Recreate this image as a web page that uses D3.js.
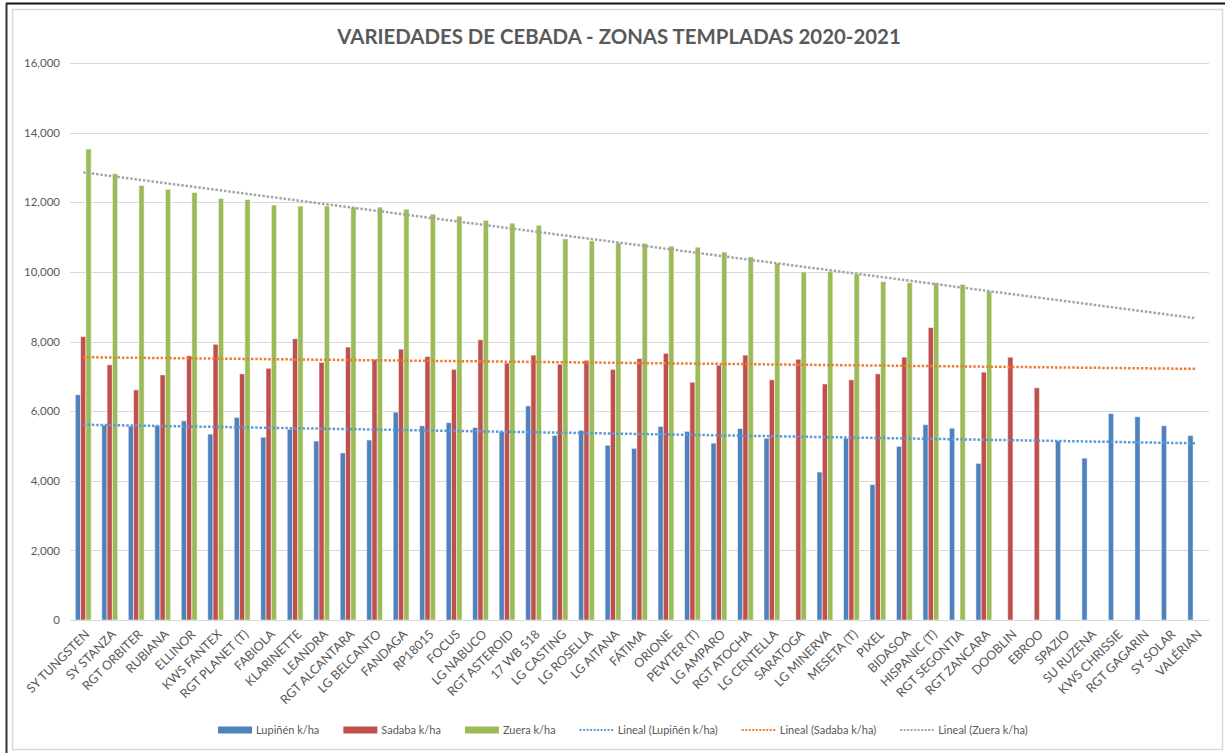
<!DOCTYPE html>
<html><head><meta charset="utf-8">
<script src="https://cdn.jsdelivr.net/npm/d3@7"></script>
<style>html,body{margin:0;padding:0;background:#fff;}svg{display:block;}</style>
</head><body>
<svg id="chart" width="1225" height="753"></svg>
<script>
const title = "VARIEDADES DE CEBADA - ZONAS TEMPLADAS 2020-2021";
const categories = ["SY TUNGSTEN","SY STANZA","RGT ORBITER","RUBIANA","ELLINOR","KWS FANTEX","RGT PLANET (T)","FABIOLA","KLARINETTE","LEANDRA","RGT ALCANTARA","LG BELCANTO","FANDAGA","RP18015","FOCUS","LG NABUCO","RGT ASTEROID","17 WB 518","LG CASTING","LG ROSELLA","LG AITANA","FÁTIMA","ORIONE","PEWTER (T)","LG AMPARO","RGT ATOCHA","LG CENTELLA","SARATOGA","LG MINERVA","MESETA (T)","PIXEL","BIDASOA","HISPANIC (T)","RGT SEGONTIA","RGT ZANCARA","DOOBLIN","EBROO","SPAZIO","SU RUZENA","KWS CHRISSIE","RGT GAGARIN","SY SOLAR","VALÉRIAN"];
const seriesNames = ["Lupiñén k/ha","Sadaba k/ha","Zuera k/ha"];
const lupinen = [6470,5600,5570,5590,5720,5340,5820,5250,5480,5140,4800,5170,5970,5580,5670,5530,5420,6150,5300,5450,5020,4930,5560,5420,5080,5500,5220,null,4250,5220,3890,4990,5610,5510,4500,null,null,5150,4650,5930,5840,5580,5300];
const sadaba = [8140,7330,6610,7040,7590,7920,7070,7230,8080,7400,7840,7490,7780,7570,7200,8050,7380,7610,7350,7460,7200,7510,7660,6830,7320,7610,6900,7490,6780,6900,7070,7550,8400,null,7120,7550,6670,null,null,null,null,null,null];
const zuera = [13530,12820,12480,12370,12280,12110,12080,11920,11890,11890,11860,11860,11800,11660,11600,11480,11400,11340,10950,10890,10830,10820,10740,10710,10570,10430,10250,10000,10010,9940,9720,9690,9690,9640,9440,null,null,null,null,null,null,null,null];
const yTicks = [0,2000,4000,6000,8000,10000,12000,14000,16000];

const barColors = ["#4F81BD","#C0504D","#9BBB59"];
const trendColors = ["#5B9BD5","#ED7D31","#A5A5A5"];
const seriesData = [lupinen, sadaba, zuera];
const FONT = "Lato, 'Liberation Sans', sans-serif";
const TXT = "#595959";

const svg = d3.select("#chart");
// frame
svg.append("rect").attr("x",12.5).attr("y",9.5).attr("width",1210).attr("height",740)
  .attr("fill","#fff").attr("stroke","#d9d9d9").attr("stroke-width",1.5);
svg.append("line").attr("x1",6).attr("x2",1225).attr("y1",3.5).attr("y2",3.5).attr("stroke","#111").attr("stroke-width",2);
svg.append("line").attr("x1",6.5).attr("x2",6.5).attr("y1",3).attr("y2",753).attr("stroke","#333").attr("stroke-width",2);

const pLeft = 70, pRight = 1209, pTop = 63, pBottom = 620;
const x = d3.scaleBand().domain(categories).range([pLeft, pRight]).padding(0);
const y = d3.scaleLinear().domain([0,16000]).range([pBottom, pTop]);
const groupW = x.bandwidth()*0.6;
const x1 = d3.scaleBand().domain(d3.range(3)).range([(x.bandwidth()-groupW)/2, (x.bandwidth()+groupW)/2]);

// title
const t = svg.append("text").attr("x",619).attr("y",44).attr("text-anchor","middle")
  .attr("font-family",FONT).attr("font-weight","bold").attr("font-size",20).attr("fill",TXT).text(title);
const tw = t.node().getComputedTextLength();
t.attr("font-size", 20*564/tw);

// gridlines
svg.append("g").selectAll("line").data(yTicks).join("line")
  .attr("x1",pLeft).attr("x2",pRight).attr("y1",d=>Math.round(y(d))+0.5).attr("y2",d=>Math.round(y(d))+0.5)
  .attr("stroke","#d9d9d9").attr("stroke-width",1);

// y axis labels
const yAxis = d3.axisLeft(y).tickValues(yTicks).tickFormat(d3.format(",")).tickSize(0).tickPadding(10);
const ya = svg.append("g").attr("transform",`translate(${pLeft},0)`).call(yAxis);
ya.select(".domain").remove();
ya.selectAll("text").attr("font-family",FONT).attr("font-size",11.5).attr("fill",TXT);

// bars
const gBars = svg.append("g");
seriesData.forEach((arr, s) => {
  gBars.append("g").selectAll("rect").data(arr.map((v,i)=>({v, c:categories[i]})).filter(d=>d.v!=null)).join("rect")
    .attr("x", d=>x(d.c)+x1(s)).attr("width", x1.bandwidth())
    .attr("y", d=>y(d.v)).attr("height", d=>y(0)-y(d.v))
    .attr("fill", barColors[s]).attr("stroke","rgba(255,255,255,0.55)").attr("stroke-width",1);
});

// x axis
const xAxis = d3.axisBottom(x).tickSize(0).tickPadding(0);
const xa = svg.append("g").attr("transform",`translate(0,${pBottom})`).call(xAxis);
xa.select(".domain").attr("stroke","#d9d9d9");
xa.selectAll("text").attr("font-family",FONT).attr("font-size",12.5).attr("fill",TXT)
  .attr("text-anchor","end").attr("dy","0.35em")
  .attr("transform","translate(4,12) rotate(-45)");

// trend lines (linear least squares, x = category number)
const trendLine = d3.line().x(d=>x(d.c)+x.bandwidth()/2).y(d=>y(d.v));
seriesData.forEach((arr, s) => {
  const pts = arr.map((v,i)=>[i+1,v]).filter(p=>p[1]!=null);
  const mx = d3.mean(pts,p=>p[0]), my = d3.mean(pts,p=>p[1]);
  const slope = d3.sum(pts,p=>(p[0]-mx)*(p[1]-my))/d3.sum(pts,p=>(p[0]-mx)**2);
  const icpt = my - slope*mx;
  const tr = categories.map((c,i)=>({c, v: icpt + slope*(i+1)}));
  svg.append("path").datum([tr[0], tr[tr.length-1]]).attr("d",trendLine)
    .attr("fill","none").attr("stroke",trendColors[s]).attr("stroke-width",2.5).attr("stroke-dasharray","2.5,1.8");
});

// legend (laid out sequentially)
const legendY = 730;
const legendItems = [
  {type:"bar", s:0, label:seriesNames[0]},
  {type:"bar", s:1, label:seriesNames[1]},
  {type:"bar", s:2, label:seriesNames[2]},
  {type:"line", s:0, label:"Lineal ("+seriesNames[0]+")"},
  {type:"line", s:1, label:"Lineal ("+seriesNames[1]+")"},
  {type:"line", s:2, label:"Lineal ("+seriesNames[2]+")"}
];
const lg = svg.append("g");
let lx = 218;
legendItems.forEach(it => {
  if (it.type==="bar") {
    lg.append("rect").attr("x",lx).attr("y",legendY-3.5).attr("width",34).attr("height",7).attr("fill",barColors[it.s]);
  } else {
    lg.append("line").attr("x1",lx).attr("x2",lx+34).attr("y1",legendY).attr("y2",legendY)
      .attr("stroke",trendColors[it.s]).attr("stroke-width",2).attr("stroke-dasharray","2,1.5");
  }
  const tx = lg.append("text").attr("x",lx+38).attr("y",legendY).attr("dy","0.35em")
    .attr("font-family",FONT).attr("font-size",11).attr("fill",TXT).text(it.label);
  lx += 38 + tx.node().getComputedTextLength() + 24;
});
</script>
</body></html>
